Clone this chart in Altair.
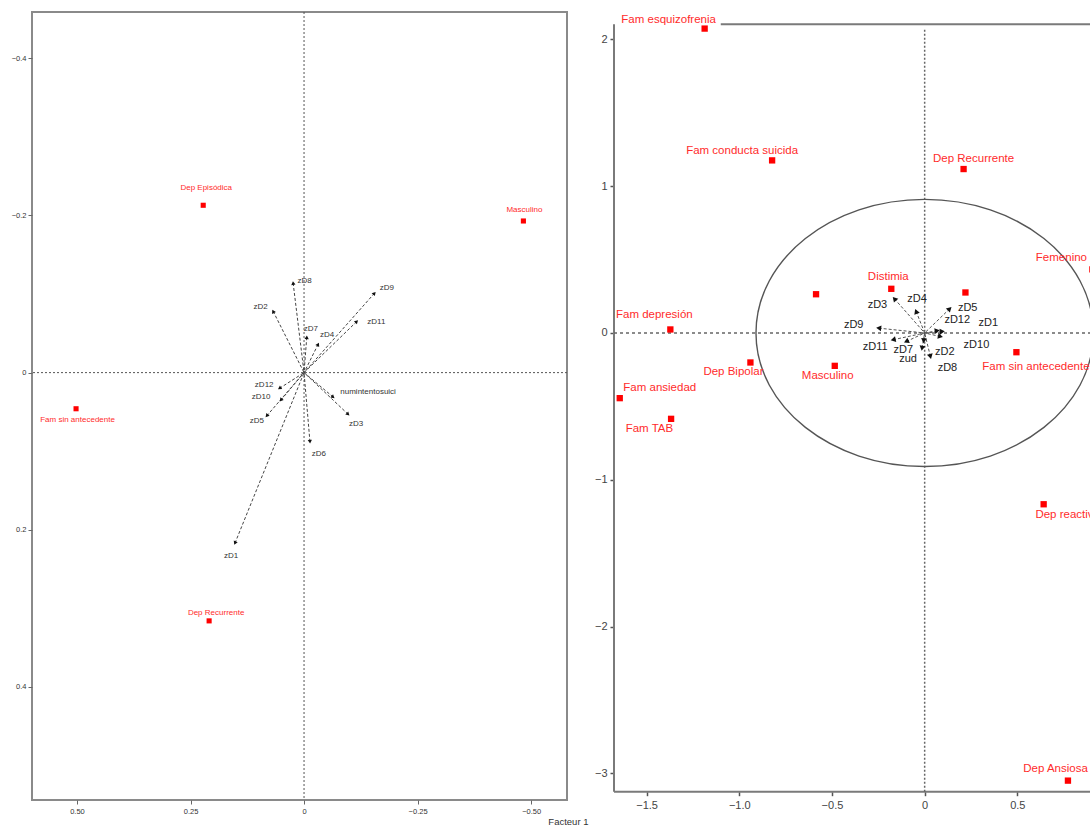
import math
import altair as alt
import pandas as pd

# ---------------- Left map (Factor 1 / Factor 2, both axes reversed) ----------------
left_cat_names = ["Dep Episódica", "Masculino", "Fam sin antecedente", "Dep Recurrente"]
left_cat_f1 = [0.222, -0.483, 0.502, 0.209]
left_cat_f2 = [-0.213, -0.193, 0.046, 0.316]

left_var_names = ["zD8", "zD9", "zD2", "zD11", "zD7", "zD4", "zD12", "zD10", "zD5",
                  "numintentosuici", "zD3", "zD6", "zD1"]
left_var_f1 = [0.024, -0.155, 0.068, -0.116, -0.006, -0.031, 0.054, 0.051, 0.082,
               -0.064, -0.097, -0.013, 0.152]
left_var_f2 = [-0.114, -0.101, -0.078, -0.065, -0.045, -0.036, 0.020, 0.035, 0.055,
               0.031, 0.053, 0.088, 0.217]

left_x_ticks = [0.5, 0.25, 0, -0.25, -0.5]
left_y_ticks = [-0.4, -0.2, 0, 0.2, 0.4]

# ---------------- Right map (categories and standardized variables) ----------------
right_cat_names = ["Fam esquizofrenia", "Fam conducta suicida", "Dep Recurrente", "Distimia",
                   "", "", "Femenino", "Fam depresión", "Dep Bipolar", "Masculino",
                   "Fam sin antecedente", "Fam ansiedad", "Fam TAB", "Dep reactiva", "Dep Ansiosa"]
right_cat_f1 = [-1.187, -0.823, 0.210, -0.180, -0.586, 0.220, 0.905, -1.372, -0.940, -0.485,
                0.495, -1.645, -1.368, 0.642, 0.773]
right_cat_f2 = [2.074, 1.176, 1.117, 0.301, 0.264, 0.276, 0.433, 0.024, -0.201, -0.224,
                -0.131, -0.444, -0.585, -1.167, -3.050]

right_var_names = ["zD3", "zD4", "zD5", "zD12", "zD1", "zD9", "zD11", "zD7", "zud", "zD2",
                   "zD10", "zD8"]
right_var_f1 = [-0.163, -0.046, 0.135, 0.068, 0.095, -0.248, -0.170, -0.099, -0.014, -0.005,
                0.085, 0.031]
right_var_f2 = [0.233, 0.147, 0.165, 0.015, 0.010, 0.033, -0.046, -0.058, -0.104, -0.053,
                -0.024, -0.160]

right_x_ticks = [-1.5, -1.0, -0.5, 0, 0.5]
right_y_ticks = [-3, -2, -1, 0, 1, 2]
circle_radius = 0.91

# ---------------- layout / style ----------------
FONT = "Liberation Sans"
RED = "#ff0000"
RED_TXT = "#ff2b2b"

LW, LH = 535, 788
L_XDOM = [-0.579, 0.599]
L_YDOM = [-0.459, 0.544]
RW, RH = 476, 788
R_XDOM = [-1.676, 0.892]
R_YDOM = [-3.182, 2.187]
R_XMIN_FRAME, R_YMIN_FRAME, R_YMAX_FRAME = -1.676, -3.125, 2.104

l_px_x = LW / (L_XDOM[1] - L_XDOM[0])
l_px_y = LH / (L_YDOM[1] - L_YDOM[0])
r_px_x = RW / (R_XDOM[1] - R_XDOM[0])
r_px_y = RH / (R_YDOM[1] - R_YDOM[0])

# label nudges in pixels (dx to the right, dy downward)
left_cat_nudge = {"Dep Episódica": (3, -17), "Masculino": (1, -11),
                  "Fam sin antecedente": (1.5, 11.6), "Dep Recurrente": (7, -8)}
left_var_nudge = {"zD8": (11.5, -2), "zD9": (12.5, -5), "zD2": (-12.6, -4), "zD11": (19.6, 0.7),
                  "zD7": (4, -8.4), "zD4": (9, -9.4), "zD12": (-15.3, -3.4), "zD10": (-19.7, -3.3),
                  "zD5": (-10, 4.7), "numintentosuici": (35, -4.7), "zD3": (8, 10),
                  "zD6": (9, 12), "zD1": (-4, 12.6)}
right_cat_nudge = {"Fam esquizofrenia": (-36, -9), "Fam conducta suicida": (-30, -9),
                   "Dep Recurrente": (10, -10), "Distimia": (-3, -12), "Femenino": (-31, -11),
                   "Fam depresión": (-16, -14), "Dep Bipolar": (-17, 10), "Masculino": (-7, 10),
                   "Fam sin antecedente": (19.5, 15), "Fam ansiedad": (40, -10),
                   "Fam TAB": (-21.7, 10), "Dep reactiva": (24, 11), "Dep Ansiosa": (-12.4, -12)}
right_var_nudge = {"zD3": (-17, 6), "zD4": (1, -12), "zD5": (18, -1), "zD12": (20, -11),
                   "zD1": (46, -9), "zD9": (-25, -3), "zD11": (-18, 7), "zD7": (-3, 9),
                   "zud": (-14, 11), "zD2": (21, 11), "zD10": (36, 8), "zD8": (17, 12)}


def zero_fmt(fmt):
    return f"datum.value == 0 ? '0' : format(datum.value, '{fmt}')"


# ---------------- left panel data ----------------
def left_labels(names, f1, f2, nudge):
    rows = []
    for n, a, b in zip(names, f1, f2):
        dx, dy = nudge.get(n, (0, 0))
        rows.append({"label": n, "x": a - dx / l_px_x, "y": b + dy / l_px_y})
    return pd.DataFrame(rows)


def head_angle(dx_px, dy_px):
    return (math.degrees(math.atan2(dx_px, -dy_px)) + 360) % 360


l_cat = pd.DataFrame({"label": left_cat_names, "x": left_cat_f1, "y": left_cat_f2})
l_var = pd.DataFrame({"label": left_var_names, "x": left_var_f1, "y": left_var_f2})
l_var["ox"] = 0.0
l_var["oy"] = 0.0
l_var["ang"] = [head_angle(-a * l_px_x, b * l_px_y) for a, b in zip(left_var_f1, left_var_f2)]
l_cat_lab = left_labels(left_cat_names, left_cat_f1, left_cat_f2, left_cat_nudge)
l_var_lab = left_labels(left_var_names, left_var_f1, left_var_f2, left_var_nudge)

lx = alt.X("x:Q",
           scale=alt.Scale(domain=L_XDOM, reverse=True, nice=False, zero=False),
           axis=alt.Axis(values=left_x_ticks, labelExpr=zero_fmt(".2f"), grid=False, domain=False,
                         tickSize=4, tickColor="#666", labelColor="#333", labelFontSize=7.5,
                         labelFont=FONT, labelPadding=3, title="Facteur 1", titleFont=FONT,
                         titleFontSize=9.5, titleFontWeight="normal", titleColor="#333",
                         titleAlign="right", titleBaseline="bottom", titleX=556, titleY=26))
ly = alt.Y("y:Q",
           scale=alt.Scale(domain=L_YDOM, reverse=True, nice=False, zero=False),
           axis=alt.Axis(values=left_y_ticks, labelExpr=zero_fmt(".1f"), grid=False, domain=False,
                         tickSize=4, tickColor="#666", labelColor="#333", labelFontSize=7.5,
                         labelFont=FONT, labelPadding=2, title=None))

l_origin_v = alt.Chart(pd.DataFrame({"x": [0.0]})).mark_rule(
    color="#555", strokeWidth=1, strokeDash=[2, 2]).encode(x=lx)
l_origin_h = alt.Chart(pd.DataFrame({"y": [0.0]})).mark_rule(
    color="#555", strokeWidth=1, strokeDash=[2, 2]).encode(y=ly)
l_arrows = alt.Chart(l_var).mark_rule(color="#444", strokeWidth=1, strokeDash=[3, 2]).encode(
    x=lx, y=ly, x2=alt.X2("ox"), y2=alt.Y2("oy"))
l_heads = alt.Chart(l_var).mark_point(shape="triangle-up", filled=True, color="#111",
                                      size=18, opacity=1).encode(
    x=lx, y=ly, angle=alt.Angle("ang:Q", scale=None))
l_points = alt.Chart(l_cat).mark_point(shape="square", filled=True, color=RED, size=26,
                                       opacity=1).encode(x=lx, y=ly)
l_cat_text = alt.Chart(l_cat_lab).mark_text(font=FONT, fontSize=8, color=RED_TXT,
                                            baseline="middle", align="center").encode(
    x=lx, y=ly, text="label:N")
l_var_text = alt.Chart(l_var_lab).mark_text(font=FONT, fontSize=8, color="#333",
                                            baseline="middle", align="center").encode(
    x=lx, y=ly, text="label:N")

left = alt.layer(l_origin_v, l_origin_h, l_arrows, l_heads, l_points, l_cat_text, l_var_text,
                 view=alt.ViewBackground(stroke="#8a8a8a", strokeWidth=2)
                 ).properties(width=LW, height=LH)


# ---------------- right panel data ----------------
def right_labels(names, f1, f2, nudge):
    rows = []
    for n, a, b in zip(names, f1, f2):
        if not n:
            continue
        dx, dy = nudge.get(n, (0, 0))
        rows.append({"label": n, "x": a + dx / r_px_x, "y": b - dy / r_px_y})
    return pd.DataFrame(rows)


r_cat = pd.DataFrame({"label": right_cat_names, "x": right_cat_f1, "y": right_cat_f2})
r_var = pd.DataFrame({"label": right_var_names, "x": right_var_f1, "y": right_var_f2})
r_var["ox"] = 0.0
r_var["oy"] = 0.0
r_var["ang"] = [head_angle(a * r_px_x, -b * r_px_y) for a, b in zip(right_var_f1, right_var_f2)]
r_cat_lab = right_labels(right_cat_names, right_cat_f1, right_cat_f2, right_cat_nudge)
r_var_lab = right_labels(right_var_names, right_var_f1, right_var_f2, right_var_nudge)

rx = alt.X("x:Q",
           scale=alt.Scale(domain=R_XDOM, nice=False, zero=False),
           axis=alt.Axis(values=right_x_ticks, labelExpr=zero_fmt(".1f"), grid=False, domain=False,
                         offset=-8.3, tickSize=4, tickColor="#555", tickWidth=1.5,
                         labelColor="#444", labelFontSize=11, labelFont=FONT, labelPadding=4,
                         title=None))
ry = alt.Y("y:Q",
           scale=alt.Scale(domain=R_YDOM, nice=False, zero=False),
           axis=alt.Axis(values=right_y_ticks, format="d", grid=False, domain=False,
                         tickSize=4, tickColor="#555", tickWidth=1.5, labelColor="#444",
                         labelFontSize=11, labelFont=FONT, labelPadding=3, title=None))

# frame: left axis line, bottom axis line, top border
r_frame_v = alt.Chart(pd.DataFrame({"x": [R_XMIN_FRAME], "y": [R_YMIN_FRAME],
                                    "y2": [R_YMAX_FRAME]})).mark_rule(
    color="#7a7a7a", strokeWidth=2).encode(x=rx, y=ry, y2="y2")
r_frame_b = alt.Chart(pd.DataFrame({"x": [R_XMIN_FRAME], "x2": [1.0],
                                    "y": [R_YMIN_FRAME]})).mark_rule(
    color="#7a7a7a", strokeWidth=2, clip=True).encode(x=rx, x2="x2", y=ry)
r_frame_t = alt.Chart(pd.DataFrame({"x": [-1.10], "x2": [1.0],
                                    "y": [R_YMAX_FRAME]})).mark_rule(
    color="#7a7a7a", strokeWidth=2, clip=True).encode(x=rx, x2="x2", y=ry)

r_origin_v = alt.Chart(pd.DataFrame({"x": [0.0], "y": [R_YMIN_FRAME], "y2": [2.08]})).mark_rule(
    color="#666", strokeWidth=1.5, strokeDash=[2, 2]).encode(x=rx, y=ry, y2="y2")
r_origin_h = alt.Chart(pd.DataFrame({"x": [R_XMIN_FRAME], "x2": [1.0], "y": [0.0]})).mark_rule(
    color="#666", strokeWidth=1.5, strokeDash=[3, 3], clip=True).encode(x=rx, x2="x2", y=ry)

# correlation circle drawn as an elliptical symbol (pixel aspect of the two scales)
ratio = r_px_y / r_px_x
ellipse_path = (f"M-1,0A1,{ratio:.4f},0,1,1,1,0A1,{ratio:.4f},0,1,1,-1,0Z")
ellipse_size = (2 * circle_radius * r_px_x) ** 2
r_circle = alt.Chart(pd.DataFrame({"x": [0.0], "y": [0.0]})).mark_point(
    shape=ellipse_path, size=ellipse_size, filled=False, stroke="#555", strokeWidth=1.4,
    opacity=1, clip=True).encode(x=rx, y=ry)

r_arrows = alt.Chart(r_var).mark_rule(color="#555", strokeWidth=1, strokeDash=[3, 2]).encode(
    x=rx, y=ry, x2=alt.X2("ox"), y2=alt.Y2("oy"))
r_heads = alt.Chart(r_var).mark_point(shape="triangle-up", filled=True, color="#111",
                                      size=34, opacity=1).encode(
    x=rx, y=ry, angle=alt.Angle("ang:Q", scale=None))
r_points = alt.Chart(r_cat).mark_point(shape="square", filled=True, color=RED, size=40,
                                       opacity=1, clip=True).encode(x=rx, y=ry)
r_cat_text = alt.Chart(r_cat_lab).mark_text(font=FONT, fontSize=11.5, color=RED_TXT,
                                            baseline="middle", align="center",
                                            clip=True).encode(x=rx, y=ry, text="label:N")
r_var_text = alt.Chart(r_var_lab).mark_text(font=FONT, fontSize=11, color="#222",
                                            baseline="middle", align="center",
                                            clip=True).encode(x=rx, y=ry, text="label:N")

right = alt.layer(r_frame_v, r_frame_b, r_frame_t, r_origin_v, r_origin_h, r_circle,
                  r_arrows, r_heads, r_points, r_cat_text, r_var_text,
                  view=alt.ViewBackground(stroke="transparent", strokeWidth=0)
                  ).properties(width=RW, height=RH)

chart = alt.hconcat(left, right, spacing=47, bounds="flush").properties(
    padding={"left": 10, "top": 10, "right": 0, "bottom": 0},
    background="white",
)

chart.save("out.html", embed_options={"renderer": "svg", "actions": False})
